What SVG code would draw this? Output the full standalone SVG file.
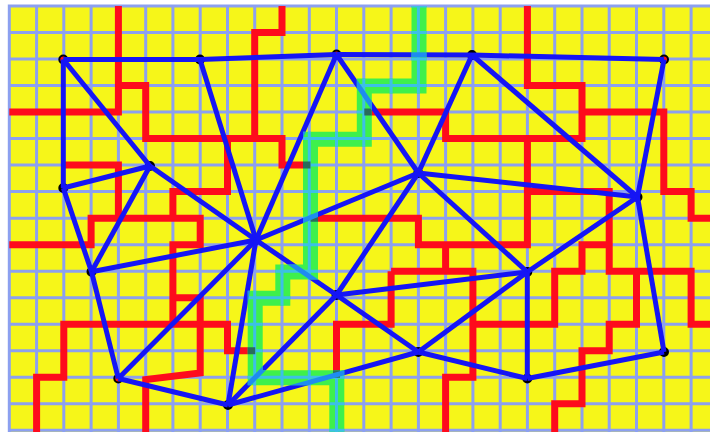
<svg xmlns="http://www.w3.org/2000/svg" width="710" height="432" viewBox="0 0 710 432">
<style>
.grid{fill:none;stroke:#8ca0f0;stroke-width:3}
.gridc{fill:none;stroke:#3cc0e6;stroke-width:3}
.wall{fill:none;stroke:#fe0b1c;stroke-width:7;stroke-linejoin:miter;stroke-linecap:butt}
.walld{fill:none;stroke:#2a6b5c;stroke-width:7;stroke-linejoin:miter;stroke-linecap:butt}
.route{fill:none;stroke:#3ef04c;stroke-width:15;stroke-linejoin:miter}
.edge{stroke:#1515f5;stroke-width:5}
.edgel{stroke:#1e8cf0;stroke-width:5}
.node circle{stroke:#000;stroke-width:2;fill:#000}
.node.start circle{fill:#fe0b1c}
</style>
<defs>
<path id="gridp" d="M9.3,6V432M36.6,6V432M63.8,6V432M91.1,6V432M118.4,6V432M145.7,6V432M172.9,6V432M200.2,6V432M227.5,6V432M254.7,6V432M282,6V432M309.3,6V432M336.5,6V432M363.8,6V432M391.1,6V432M418.4,6V432M445.6,6V432M472.9,6V432M500.2,6V432M527.4,6V432M554.7,6V432M582,6V432M609.2,6V432M636.5,6V432M663.8,6V432M691.1,6V432M7.8,6H710M7.8,32.5H710M7.8,59H710M7.8,85.6H710M7.8,112.1H710M7.8,138.6H710M7.8,165.1H710M7.8,191.6H710M7.8,218.2H710M7.8,244.7H710M7.8,271.2H710M7.8,297.7H710M7.8,324.2H710M7.8,350.8H710M7.8,377.3H710M7.8,403.8H710M7.8,430.3H710"/>
<path id="wallp" d="M9.3,112.1H118.4V6
M118.4,85.6H145.7V138.6H282V165.1H310.5
M282,6V32.5H254.7V138.6
M227.5,138.6V191.6H172.9V218.2
M9.3,244.7H91.1V218.2H200.2V244.7H172.9V324.2
M63.8,165.1H118.4V218.2
M36.6,432V377.3H63.8V324.2H227.5V350.8H255.2
M172.9,297.7H200.2V373L145.7,379.5V432
M310.5,218.2H418.4V244.7H527.4V138.6
M445.6,244.7V271.2
M391.1,271.2H472.9V377.3H445.6V432
M391.1,271.2V324.2H336.5V377.8
M364.3,112.1H445.6V138.6H582V85.6H527.4V6
M582,112.1H663.8V191.6H691.1V218.2H712
M527.4,191.6H609.2V271.2H691.1V324.2H712
M609.2,244.7H582V271.2H554.7V324.2H472.9
M636.5,271.2V324.2H609.2V350.8H582V403.8H554.7V432"/>
<path id="routep" d="M419,6V86H364.3V139.2H310.5V272H282.8V298.3H255.2V377.8H336.8V432"/>
<g id="edgep">
<line x1="63.3" y1="59.5" x2="200" y2="59.5"/>
<line x1="200" y1="59.5" x2="336.5" y2="54.5"/>
<line x1="336.5" y1="54.5" x2="472" y2="55"/>
<line x1="472" y1="55" x2="664" y2="59.5"/>
<line x1="63.3" y1="59.5" x2="63.3" y2="188"/>
<line x1="63.3" y1="59.5" x2="150" y2="166"/>
<line x1="150" y1="166" x2="256" y2="240"/>
<line x1="200" y1="59.5" x2="256" y2="240"/>
<line x1="336.5" y1="54.5" x2="256" y2="240"/>
<line x1="336.5" y1="54.5" x2="418.3" y2="173"/>
<line x1="472" y1="55" x2="418.3" y2="173"/>
<line x1="472" y1="55" x2="637.5" y2="197"/>
<line x1="664" y1="59.5" x2="637.5" y2="197"/>
<line x1="63.3" y1="188" x2="150" y2="166"/>
<line x1="63.3" y1="188" x2="91.5" y2="271.7"/>
<line x1="150" y1="166" x2="91.5" y2="271.7"/>
<line x1="256" y1="240" x2="418.3" y2="173"/>
<line x1="418.3" y1="173" x2="637.5" y2="197"/>
<line x1="418.3" y1="173" x2="336.5" y2="295"/>
<line x1="418.3" y1="173" x2="527.3" y2="272"/>
<line x1="637.5" y1="197" x2="527.3" y2="272"/>
<line x1="637.5" y1="197" x2="664" y2="352"/>
<line x1="256" y1="240" x2="91.5" y2="271.7"/>
<line x1="256" y1="240" x2="336.5" y2="295"/>
<line x1="256" y1="240" x2="118.3" y2="378.5"/>
<line x1="256" y1="240" x2="228" y2="405"/>
<line x1="91.5" y1="271.7" x2="118.3" y2="378.5"/>
<line x1="336.5" y1="295" x2="527.3" y2="272"/>
<line x1="336.5" y1="295" x2="418.3" y2="352"/>
<line x1="336.5" y1="295" x2="228" y2="405"/>
<line x1="118.3" y1="378.5" x2="228" y2="405"/>
<line x1="228" y1="405" x2="418.3" y2="352"/>
<line x1="418.3" y1="352" x2="527.3" y2="272"/>
<line x1="418.3" y1="352" x2="527.3" y2="378.5"/>
<line x1="527.3" y1="272" x2="527.3" y2="378.5"/>
<line x1="527.3" y1="378.5" x2="664" y2="352"/>
</g>
<mask id="gm" maskUnits="userSpaceOnUse" x="0" y="0" width="710" height="432">
<use href="#routep" fill="none" stroke="#fff" stroke-width="15" stroke-linejoin="miter"/>
</mask>
</defs>
<rect x="0" y="0" width="710" height="432" fill="#ffffff"/>
<rect x="9.3" y="6" width="701" height="426" fill="#f6f619"/>
<g id="grid"><use href="#gridp" class="grid"/></g>
<g id="walls"><use href="#wallp" class="wall"/></g>
<g id="n1" class="node start"><circle cx="63.3" cy="59.5" r="4"/></g>
<g id="n2" class="node"><circle cx="200" cy="59.5" r="4"/></g>
<g id="n3" class="node start"><circle cx="336.5" cy="54.5" r="4"/></g>
<g id="n4" class="node"><circle cx="472" cy="55" r="4"/></g>
<g id="n5" class="node start"><circle cx="664" cy="59.5" r="4"/></g>
<g id="n6" class="node"><circle cx="63.3" cy="188" r="4"/></g>
<g id="n7" class="node"><circle cx="150" cy="166" r="4"/></g>
<g id="n8" class="node"><circle cx="256" cy="240" r="4"/></g>
<g id="n9" class="node"><circle cx="418.3" cy="173" r="4"/></g>
<g id="n10" class="node"><circle cx="637.5" cy="197" r="4"/></g>
<g id="n11" class="node"><circle cx="91.5" cy="271.7" r="4"/></g>
<g id="n12" class="node"><circle cx="336.5" cy="295" r="4"/></g>
<g id="n13" class="node"><circle cx="527.3" cy="272" r="4"/></g>
<g id="n14" class="node start"><circle cx="118.3" cy="378.5" r="4"/></g>
<g id="n15" class="node"><circle cx="228" cy="405" r="4"/></g>
<g id="n16" class="node"><circle cx="418.3" cy="352" r="4"/></g>
<g id="n17" class="node"><circle cx="527.3" cy="378.5" r="4"/></g>
<g id="n18" class="node"><circle cx="664" cy="352" r="4"/></g>
<g id="connectors"><use href="#edgep" class="edge"/></g>
<g id="route">
<use href="#routep" class="route"/>
<g mask="url(#gm)">
<use href="#gridp" class="gridc"/>
<use href="#wallp" class="walld"/>
<use href="#edgep" class="edgel"/>
</g>
</g>
</svg>
